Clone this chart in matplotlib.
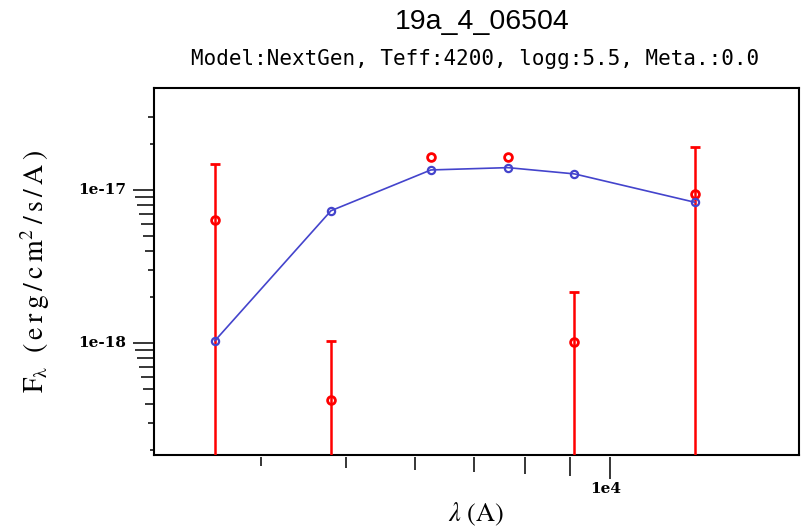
import numpy as np
import matplotlib
matplotlib.use("Agg")
import matplotlib.pyplot as plt
from matplotlib.transforms import blended_transform_factory, offset_copy
from matplotlib.ticker import NullLocator

# Photometric bands (effective wavelength, Angstrom)
wave = [3544, 4807, 6249, 7649, 9111, 12500]
# Observed fluxes and 1-sigma errors (erg/cm^2/s/A)
flux_obs = [6.34e-18, 4.26e-19, 1.64e-17, 1.64e-17, 1.01e-18, 9.42e-18]
flux_err = [8.5e-18, 6.05e-19, 2.0e-19, 2.0e-19, 1.14e-18, 9.6e-18]
# Synthetic model fluxes
flux_model = [1.035e-18, 7.32e-18, 1.352e-17, 1.40e-17, 1.274e-17, 8.31e-18]

title = "19a_4_06504"
subtitle = "Model:NextGen, Teff:4200, logg:5.5, Meta.:0.0"
x_label_ticks = {10000: "1e4"}
y_label_ticks = {1e-18: "1e-18", 1e-17: "1e-17"}

xlim = (3020, 16430)
ylim = (1.854e-19, 4.64e-17)
ytick_max = 3e-17

W, H = 805, 527
fig = plt.figure(figsize=(W / 100, H / 100), dpi=100)
ax_left, ax_bottom, ax_w, ax_h = 154, 455, 645, 367
ax = fig.add_axes([ax_left / W, (H - ax_bottom) / H, ax_w / W, ax_h / H])

ax.set_xscale("log")
ax.set_yscale("log")
ax.set_xlim(*xlim)
ax.set_ylim(*ylim)

# observed photometry; bars are drawn where the error exceeds the marker size
show_err = [e > 0.05 * f for e, f in zip(flux_err, flux_obs)]
ax.errorbar(wave, flux_obs, yerr=flux_err, fmt="o", color="#ff0000",
            ms=5.6, mfc="none", mew=2.0, elinewidth=1.8,
            capsize=3.6, capthick=1.6, errorevery=show_err, zorder=3)
# model SED
ax.plot(wave, flux_model, "-o", color="#4444cc", lw=1.2,
        ms=5.2, mfc="none", mew=1.6, zorder=4)

for s in ax.spines.values():
    s.set_linewidth(1.5)

ax.tick_params(which="both", length=0, labelbottom=False, labelleft=False)
ax.xaxis.set_minor_locator(NullLocator())
ax.yaxis.set_minor_locator(NullLocator())
ax.set_xticks([])
ax.set_yticks([])


def decade_ticks(lo, hi):
    vals = []
    for e in range(int(np.floor(np.log10(lo))), int(np.ceil(np.log10(hi))) + 1):
        for m in range(1, 10):
            v = m * 10.0 ** e
            if lo <= v <= hi:
                vals.append(v)
    return vals


def tick_len(v):
    e = np.floor(np.log10(v) + 1e-9)
    m = round(v / 10 ** e)
    return 2.15 * (10 if m == 1 else m)


tick_kw = dict(color="black", lw=1.1, clip_on=False, solid_capstyle="butt")
label_font = dict(family="DejaVu Serif", weight="bold", fontsize=11)

tx = blended_transform_factory(ax.transData, ax.transAxes)
for v in decade_ticks(*xlim):
    L = tick_len(v)
    ax.plot([v, v], [-2 / ax_h, -(2 + L) / ax_h], transform=tx, **tick_kw)
tx_lab = offset_copy(tx, fig=fig, x=-4, y=-34, units="dots")
for v, lab in x_label_ticks.items():
    ax.text(v, 0, lab, transform=tx_lab, ha="center", va="center", **label_font)

ty = blended_transform_factory(ax.transAxes, ax.transData)
for v in decade_ticks(ylim[0], ytick_max):
    L = tick_len(v)
    ax.plot([0, -L / ax_w], [v, v], transform=ty, **tick_kw)
for v, lab in y_label_ticks.items():
    ax.text(-28 / ax_w, v, lab, transform=ty, ha="right", va="center", **label_font)

plt.rcParams["mathtext.fontset"] = "stix"
fig.text(476 / W, 1 - 514 / H, r"$\lambda\ \mathrm{(A)}$", ha="center", va="center",
         fontsize=19)
fig.text(35 / W, 1 - 271 / H,
         r"$\mathrm{F_\lambda\ \ (\:e\:r\:g\:/\:c\:m^2\:/\:s\:/\:A\:)}$",
         ha="center", va="center", rotation=90, fontsize=20)

fig.text(482 / W, 1 - 29 / H, title, ha="center", va="baseline",
         family="Liberation Sans", fontsize=20.5)
fig.text(475 / W, 1 - 65 / H, subtitle, ha="center", va="baseline",
         family="DejaVu Sans Mono", fontsize=15)

fig.savefig("out.png", dpi=100)
